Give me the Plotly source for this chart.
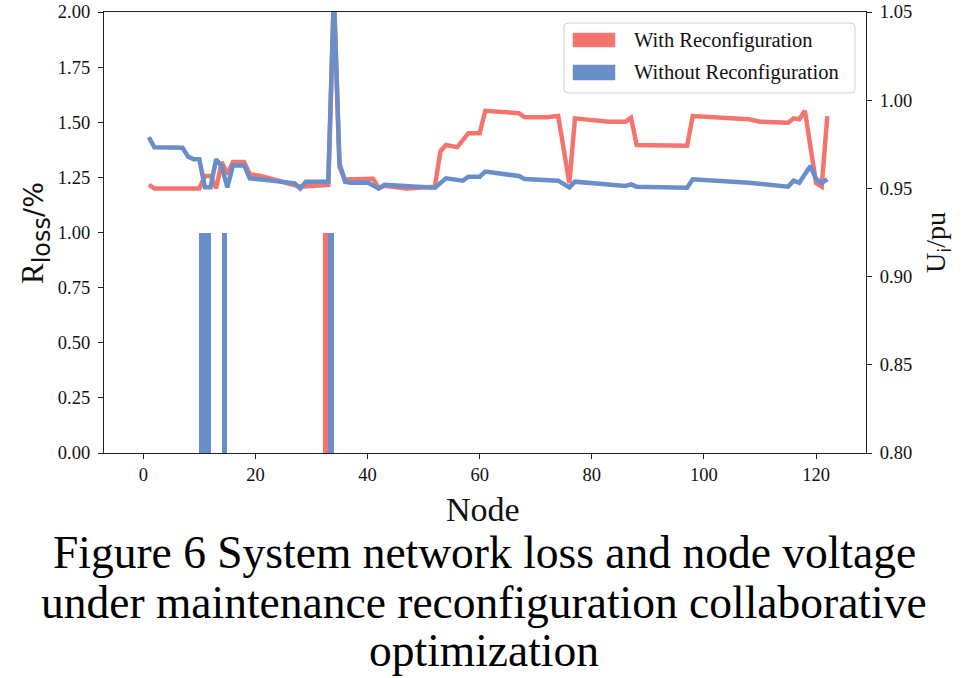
import plotly.graph_objects as go

# ---- data ----
red_nodes = [1, 2, 10, 11, 12, 13, 14, 15, 16, 18, 19, 21, 28, 33, 34, 35, 36, 40, 41, 42, 43, 47,
             52, 53, 54, 56, 58, 60, 61, 67, 68, 72, 74, 76, 77, 83, 86, 87, 88, 97, 98, 108, 110,
             115, 116, 117, 118, 119, 120, 121, 122]
red_volt = [0.952, 0.950, 0.950, 0.957, 0.957, 0.950, 0.965, 0.958, 0.965, 0.965, 0.958, 0.957,
            0.951, 0.952, 1.06, 0.962, 0.955, 0.955, 0.9555, 0.950, 0.9515, 0.950, 0.951, 0.971,
            0.9746, 0.9734, 0.9813, 0.9813, 0.994, 0.9926, 0.9903, 0.9903, 0.991, 0.953, 0.9897,
            0.9878, 0.9878, 0.990, 0.9746, 0.9742, 0.991, 0.9892, 0.9878, 0.9872, 0.9897, 0.9892,
            0.994, 0.9735, 0.953, 0.951, 0.991]

blue_nodes = [1, 2, 7, 8, 9, 10, 11, 12, 13, 14, 15, 16, 18, 19, 22, 27, 28, 29, 33, 34, 35, 36,
              37, 40, 42, 43, 52, 54, 57, 58, 60, 61, 67, 68, 74, 76, 77, 83, 86, 87, 88, 97, 98,
              108, 115, 116, 117, 118, 119, 120, 121, 122]
blue_volt = [0.979, 0.9733, 0.973, 0.968, 0.9665, 0.9665, 0.9506, 0.9506, 0.9665, 0.9623, 0.9506,
             0.963, 0.963, 0.9557, 0.9548, 0.9529, 0.950, 0.9538, 0.9538, 1.06, 0.9642, 0.9538,
             0.9532, 0.9534, 0.950, 0.952, 0.9504, 0.9557, 0.9544, 0.9566, 0.9566, 0.9595, 0.957,
             0.9553, 0.9544, 0.9506, 0.9538, 0.952, 0.9514, 0.9523, 0.951, 0.9504, 0.9552, 0.9532,
             0.951, 0.9544, 0.9532, 0.958, 0.9627, 0.9552, 0.9532, 0.9552]

red_bar_nodes = [32]
red_bar_loss = [1.0]
blue_bar_nodes = [10, 11, 14, 33]
blue_bar_loss = [1.0, 1.0, 1.0, 1.0]

legend_labels = ["With Reconfiguration", "Without Reconfiguration"]
x_ticks = [0, 20, 40, 60, 80, 100, 120]
y_ticks = [0.00, 0.25, 0.50, 0.75, 1.00, 1.25, 1.50, 1.75, 2.00]
y2_ticks = [0.80, 0.85, 0.90, 0.95, 1.00, 1.05]
caption_lines = ["Figure 6 System network loss and node voltage",
                 "under maintenance reconfiguration collaborative",
                 "optimization"]

RED = "#F4756D"
BLUE = "#6A8ECA"
SERIF = "Liberation Serif, Times New Roman, serif"
SANS = "DejaVu Sans"

W, H = 964, 678
L, R, T, B = 104, 98, 12, 225
PW, PH = W - L - R, H - T - B


def px(x):
    return (x - L) / PW


def py(y):
    return (H - B - y) / PH


fig = go.Figure()
fig.add_trace(go.Bar(x=red_bar_nodes, y=red_bar_loss, width=1, offset=0,
                     marker=dict(color=RED, line=dict(width=0)), showlegend=False, yaxis="y"))
fig.add_trace(go.Bar(x=blue_bar_nodes, y=blue_bar_loss, width=1, offset=0,
                     marker=dict(color=BLUE, line=dict(width=0)), showlegend=False, yaxis="y"))
fig.add_trace(go.Scatter(x=red_nodes, y=red_volt, mode="lines",
                         line=dict(color=RED, width=4.5), showlegend=False, yaxis="y2"))
fig.add_trace(go.Scatter(x=blue_nodes, y=blue_volt, mode="lines",
                         line=dict(color=BLUE, width=4.5), showlegend=False, yaxis="y2"))

axis_common = dict(showgrid=False, zeroline=False, showline=True, linecolor="#222",
                   linewidth=1.2, ticks="outside", ticklen=5, tickwidth=1.2, tickcolor="#222",
                   automargin=False,
                   tickfont=dict(family=SERIF, size=18.5, color="#111"))

fig.update_layout(
    width=W, height=H,
    margin=dict(l=L, r=R, t=T, b=B, pad=0, autoexpand=False),
    paper_bgcolor="white", plot_bgcolor="white",
    barmode="overlay", bargap=0,
    xaxis=dict(range=[-7.0, 128.9], tickvals=x_ticks, mirror=True, **axis_common),
    yaxis=dict(range=[0, 2.0], tickvals=y_ticks, tickformat=".2f", ticklabelstandoff=4,
               **axis_common),
    yaxis2=dict(range=[0.8, 1.05], tickvals=y2_ticks, tickformat=".2f", overlaying="y",
                side="right", ticklabelstandoff=4, **axis_common),
    showlegend=False,
)

annotations = []
# axis titles
annotations.append(dict(text="Node", x=px(483), y=py(509), xref="paper", yref="paper",
                        showarrow=False, font=dict(family=SERIF, size=34, color="#111"),
                        xanchor="center", yanchor="middle"))
annotations.append(dict(
    text=(f"R<sub><span style=\"font-family:{SANS};font-size:24px\">loss</span></sub>"
          f"<span style=\"font-family:{SANS};font-size:27px\">/%</span>"),
    x=px(36), y=py(233), xref="paper", yref="paper", textangle=-90,
    showarrow=False, font=dict(family=SERIF, size=31, color="#111"),
    xanchor="center", yanchor="middle"))
annotations.append(dict(
    text=f"U<sub><span style=\"font-family:{SANS};font-size:18px\">i</span></sub>/pu",
    x=px(937), y=py(242), xref="paper", yref="paper", textangle=-90,
    showarrow=False, font=dict(family=SERIF, size=28, color="#111"),
    xanchor="center", yanchor="middle"))
# legend texts
for lab, yc in zip(legend_labels, [40, 72]):
    annotations.append(dict(text=lab, x=px(632), y=py(yc), xref="paper", yref="paper",
                            showarrow=False, font=dict(family=SERIF, size=20.5, color="#111"),
                            xanchor="left", yanchor="middle"))
# caption
for line, yc in zip(caption_lines, [552, 602, 650]):
    annotations.append(dict(text=line, x=px(484), y=py(yc), xref="paper", yref="paper",
                            showarrow=False, font=dict(family=SERIF, size=45.5, color="#000"),
                            xanchor="center", yanchor="middle"))

shapes = []
# legend frame with rounded corners
x0, x1, y0, y1, r = 564, 855, 23, 93, 4
path = (f"M {px(x0 + r)},{py(y0)} L {px(x1 - r)},{py(y0)} Q {px(x1)},{py(y0)} {px(x1)},{py(y0 + r)} "
        f"L {px(x1)},{py(y1 - r)} Q {px(x1)},{py(y1)} {px(x1 - r)},{py(y1)} "
        f"L {px(x0 + r)},{py(y1)} Q {px(x0)},{py(y1)} {px(x0)},{py(y1 - r)} "
        f"L {px(x0)},{py(y0 + r)} Q {px(x0)},{py(y0)} {px(x0 + r)},{py(y0)} Z")
shapes.append(dict(type="path", path=path, xref="paper", yref="paper",
                   fillcolor="rgba(255,255,255,0.85)", line=dict(color="#d0d0d0", width=1)))
for col, (ya, yb) in zip([RED, BLUE], [(33, 47), (65, 80)]):
    shapes.append(dict(type="rect", xref="paper", yref="paper",
                       x0=px(573), x1=px(615), y0=py(yb), y1=py(ya),
                       fillcolor=col, line=dict(color=col, width=0.5)))

fig.update_layout(annotations=annotations, shapes=shapes)
fig.write_html("out.html", config={"displayModeBar": False},
               post_script="document.body.style.margin='0';document.body.style.padding='0';")
